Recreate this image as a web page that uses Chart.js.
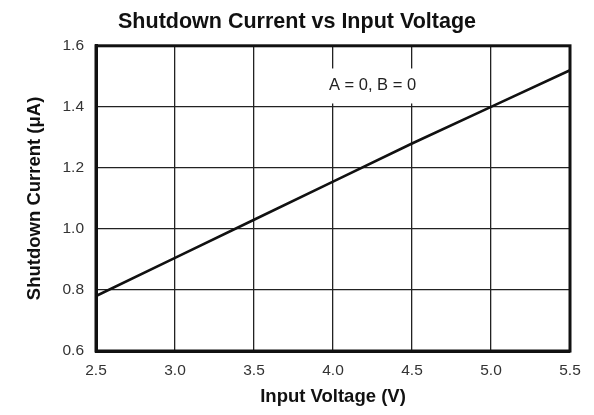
<!DOCTYPE html>
<html>
<head>
<meta charset="utf-8">
<script src="https://cdn.jsdelivr.net/npm/chart.js@4/dist/chart.umd.min.js"></script>
<style>
  html, body { margin: 0; padding: 0; background: #fff; }
  #wrap { width: 594px; height: 415px; }
</style>
</head>
<body>
<div id="wrap"><canvas id="chart" width="594" height="415"></canvas></div>
<script>
// Shutdown current vs input voltage
const voltage = [2.5, 3.0, 3.5, 4.0, 4.5, 5.0, 5.5];
const current = [0.78, 0.905, 1.03, 1.155, 1.28, 1.40, 1.52];
const xTicks = [2.5, 3.0, 3.5, 4.0, 4.5, 5.0, 5.5];
const yTicks = [0.6, 0.8, 1.0, 1.2, 1.4, 1.6];
const noteText = 'A = 0, B = 0';
const notePos = { x: 4.25, y: 1.47 };

const FONT = '"Liberation Sans", Arial, Helvetica, sans-serif';

// text label with white background box
const notePlugin = {
  id: 'note',
  afterDatasetsDraw(chart) {
    const { ctx, scales } = chart;
    const px = scales.x.getPixelForValue(notePos.x);
    const py = scales.y.getPixelForValue(notePos.y);
    ctx.save();
    ctx.font = '16.5px ' + FONT;
    const w = ctx.measureText(noteText).width;
    ctx.fillStyle = '#fff';
    ctx.fillRect(px - w / 2 - 6, py - 17, w + 12, 35);
    ctx.fillStyle = '#222';
    ctx.textAlign = 'center';
    ctx.textBaseline = 'middle';
    ctx.fillText(noteText, px, py);
    ctx.restore();
  }
};

new Chart(document.getElementById('chart'), {
  type: 'line',
  data: {
    datasets: [{
      data: voltage.map((v, i) => ({ x: v, y: current[i] })),
      borderColor: '#111',
      borderWidth: 2.6,
      pointRadius: 0,
      tension: 0,
      fill: false
    }]
  },
  options: {
    responsive: false,
    animation: false,
    layout: { padding: { left: 24, right: 24, top: 0, bottom: 0 } },
    plugins: {
      legend: { display: false },
      tooltip: { enabled: false },
      title: {
        display: true,
        text: 'Shutdown Current vs Input Voltage',
        color: '#111',
        font: { family: FONT, size: 21.5, weight: 'bold' },
        padding: { top: 9, bottom: 11 }
      }
    },
    scales: {
      x: {
        type: 'linear',
        min: 2.5,
        max: 5.5,
        afterBuildTicks: s => { s.ticks = xTicks.map(v => ({ value: v })); },
        afterFit: s => { s.height = 64; },
        ticks: {
          color: '#333',
          font: { family: FONT, size: 15.5 },
          padding: 10,
          maxRotation: 0,
          callback: v => v.toFixed(1)
        },
        grid: { color: '#222', lineWidth: 1.3, drawTicks: false },
        border: { color: '#111', width: 3 },
        title: {
          display: true,
          text: 'Input Voltage (V)',
          color: '#111',
          font: { family: FONT, size: 18.5, weight: 'bold' },
          padding: { top: 4, bottom: 7 }
        }
      },
      y: {
        min: 0.6,
        max: 1.6,
        afterBuildTicks: s => { s.ticks = yTicks.map(v => ({ value: v })); },
        afterFit: s => { s.width = 72; },
        ticks: {
          color: '#333',
          font: { family: FONT, size: 15.5 },
          padding: 12,
          callback: v => v.toFixed(1)
        },
        grid: { color: '#222', lineWidth: 1.3, drawTicks: false },
        border: { color: '#111', width: 3 },
        title: {
          display: true,
          text: 'Shutdown Current (μA)',
          color: '#111',
          font: { family: FONT, size: 18.5, weight: 'bold' },
          padding: { top: 0, bottom: 6 }
        }
      }
    }
  },
  plugins: [notePlugin, {
    id: 'frame',
    afterDatasetsDraw(chart) {
      const { ctx, chartArea: a } = chart;
      ctx.save();
      ctx.strokeStyle = '#111';
      ctx.lineWidth = 3;
      ctx.strokeRect(a.left, a.top, a.right - a.left, a.bottom - a.top);
      ctx.restore();
    }
  }]
});
</script>
</body>
</html>
